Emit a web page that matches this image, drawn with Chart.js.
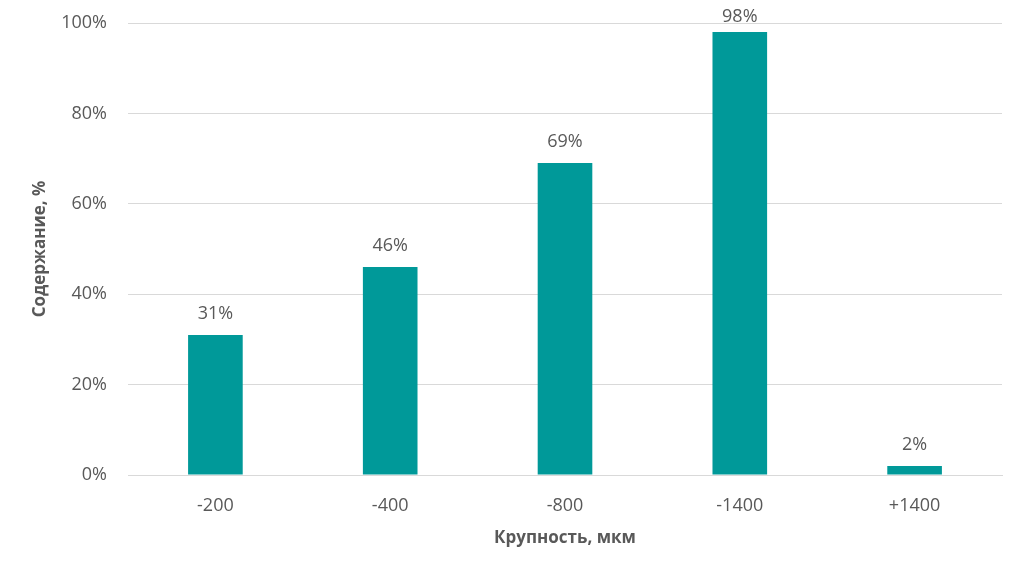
<!DOCTYPE html>
<html>
<head>
<meta charset="utf-8">
<script src="https://cdn.jsdelivr.net/npm/chart.js@4"></script>
<style>
  html, body { margin: 0; padding: 0; background: #fff; }
  #wrap { width: 1024px; height: 575px; }
</style>
</head>
<body>
<div id="wrap"><canvas id="chart" width="1024" height="575"></canvas></div>
<script>
const categories = ['-200', '-400', '-800', '-1400', '+1400'];
const values = [31, 46, 69, 98, 2];
const yTicks = [0, 20, 40, 60, 80, 100];

const textColor = '#595959';
const fontFamily = '"Open Sans", "Liberation Sans", sans-serif';

// labels above each bar, kept from running off the top of the canvas
const barLabels = {
  id: 'barLabels',
  afterDatasetsDraw(chart) {
    const ctx = chart.ctx;
    const meta = chart.getDatasetMeta(0);
    ctx.save();
    ctx.fillStyle = textColor;
    ctx.font = '18px ' + fontFamily;
    ctx.textAlign = 'center';
    ctx.textBaseline = 'middle';
    meta.data.forEach((bar, i) => {
      ctx.fillText(values[i] + '%', bar.x, Math.max(bar.y - 21, 17));
    });
    ctx.restore();
  }
};

new Chart(document.getElementById('chart'), {
  type: 'bar',
  data: {
    labels: categories,
    datasets: [{
      data: values,
      backgroundColor: '#009999',
      barPercentage: 0.625,
      categoryPercentage: 0.5
    }]
  },
  options: {
    responsive: false,
    animation: false,
    layout: { padding: { top: 23, right: 22, bottom: 0, left: 0 } },
    plugins: { legend: { display: false }, tooltip: { enabled: false } },
    scales: {
      x: {
        grid: { display: false },
        border: { color: '#d9d9d9', width: 1 },
        ticks: { color: textColor, font: { family: fontFamily, size: 18 }, padding: 12 },
        title: {
          display: true, text: 'Крупность, мкм', color: textColor,
          font: { family: fontFamily, size: 17, weight: 'bold' }, padding: { top: 0, bottom: 27 }
        },
        afterFit(scale) { scale.height = 100; scale.paddingLeft = 0; scale.paddingRight = 0; }
      },
      y: {
        min: 0, max: 100,
        afterBuildTicks(scale) { scale.ticks = yTicks.map(v => ({ value: v })); },
        grid: { color: '#d9d9d9', drawTicks: false },
        border: { display: false },
        ticks: {
          color: textColor, font: { family: fontFamily, size: 18 }, padding: 21,
          callback: v => v + '%'
        },
        title: {
          display: true, text: 'Содержание, %', color: textColor,
          font: { family: fontFamily, size: 17, weight: 'bold' }, padding: { top: 30 }
        },
        afterFit(scale) { scale.width = 128; scale.paddingTop = 0; scale.paddingBottom = 0; }
      }
    }
  },
  plugins: [barLabels]
});
</script>
</body>
</html>
